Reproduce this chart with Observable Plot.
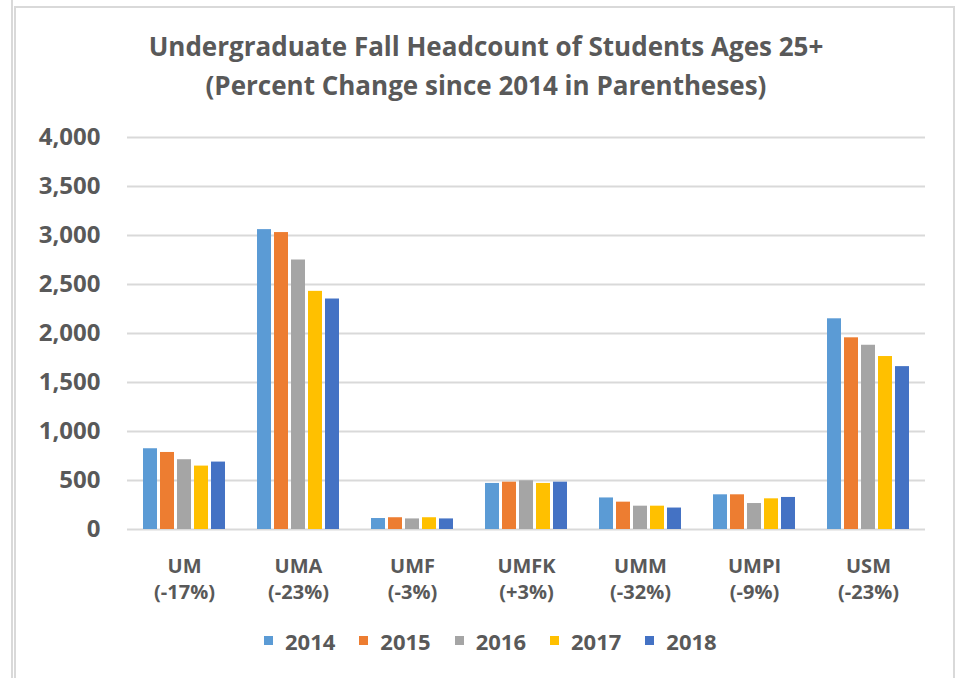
<!DOCTYPE html>
<html>
<head>
<meta charset="utf-8">
<script src="https://cdn.jsdelivr.net/npm/d3@7"></script>
<script src="https://cdn.jsdelivr.net/npm/@observablehq/plot@0.6"></script>
<style>
  html, body { margin: 0; padding: 0; background: #fff; width: 960px; height: 678px; overflow: hidden; }
  body { position: relative; font-family: "Open Sans", sans-serif; }
  .vline { position: absolute; width: 2px; background: #d9d9d9; }
  .hline { position: absolute; height: 2px; background: #d9d9d9; }
  #title { position: absolute; left: 0; width: 972px; top: 27px; text-align: center;
           font-family: "Open Sans", sans-serif; font-weight: 700; font-size: 26px; line-height: 39px; color: #595959; }
  #chart { position: absolute; left: 0; top: 120px; }
  #legend { position: absolute; left: 264px; top: 624px; }
  #legend .lg-swatch { margin-right: 24px !important; }
  #legend .lg-swatch > svg { margin-right: 12px !important; }
</style>
</head>
<body>
<div class="vline" style="left:11px; top:0; height:678px;"></div>
<div class="vline" style="left:14px; top:6px; height:672px;"></div>
<div class="vline" style="left:953px; top:6px; height:672px;"></div>
<div class="hline" style="left:14px; top:6px; width:941px;"></div>
<div id="title">Undergraduate Fall Headcount of Students Ages 25+<br>(Percent Change since 2014 in Parentheses)</div>
<div id="chart"></div>
<div id="legend"></div>
<script>
const campuses = ["UM", "UMA", "UMF", "UMFK", "UMM", "UMPI", "USM"];
const changes = ["-17%", "-23%", "-3%", "+3%", "-32%", "-9%", "-23%"];
const years = ["2014", "2015", "2016", "2017", "2018"];
const v2014 = [824, 3060, 112, 470, 322, 354, 2150];
const v2015 = [786, 3030, 120, 483, 279, 354, 1956];
const v2016 = [712, 2750, 108, 497, 238, 265, 1880];
const v2017 = [647, 2430, 120, 470, 238, 313, 1765];
const v2018 = [688, 2352, 108, 483, 219, 327, 1662];
const yTicks = [0, 500, 1000, 1500, 2000, 2500, 3000, 3500, 4000];
const colors = ["#5B9BD5", "#ED7D31", "#A5A5A5", "#FFC000", "#4472C4"];

const series = [v2014, v2015, v2016, v2017, v2018];
const data = [];
campuses.forEach((c, i) => years.forEach((y, j) => data.push({campus: c, year: y, value: series[j][i]})));
const changeOf = new Map(campuses.map((c, i) => [c, changes[i]]));

const chart = Plot.plot({
  width: 960,
  height: 490,
  marginTop: 17,
  marginBottom: 81,
  marginLeft: 124,
  marginRight: 33,
  style: {fontFamily: "Open Sans, sans-serif", background: "transparent", overflow: "visible"},
  fx: {domain: campuses, padding: 0},
  x: {domain: years, paddingInner: 0.2, paddingOuter: 0.877, axis: null},
  y: {domain: [0, 4000]},
  color: {domain: years, range: colors},
  marks: [
    Plot.gridY(yTicks, {stroke: "#d9d9d9", strokeOpacity: 1, strokeWidth: 2}),
    Plot.barY(data, {fx: "campus", x: "year", y: "value", fill: "year"}),
    Plot.axisY(yTicks, {tickSize: 0, tickPadding: 27, fontSize: 24, fontWeight: 700, fill: "#595959",
      tickFormat: d3.format(","), label: null}),
    Plot.axisFx({anchor: "bottom", tickSize: 0, tickPadding: 25, fontSize: 20, fontWeight: 700,
      lineHeight: 1.3, fill: "#595959", label: null,
      tickFormat: d => `${d}\n(${changeOf.get(d)})`})
  ]
});
document.getElementById("chart").appendChild(chart);

const legend = Plot.legend({
  color: {type: "ordinal", domain: years, range: colors},
  legend: "swatches",
  swatchSize: 9,
  className: "lg",
  style: {fontFamily: "Open Sans, sans-serif", fontSize: "22px", fontWeight: 700, color: "#595959", background: "transparent"}
});
document.getElementById("legend").appendChild(legend);
</script>
</body>
</html>
